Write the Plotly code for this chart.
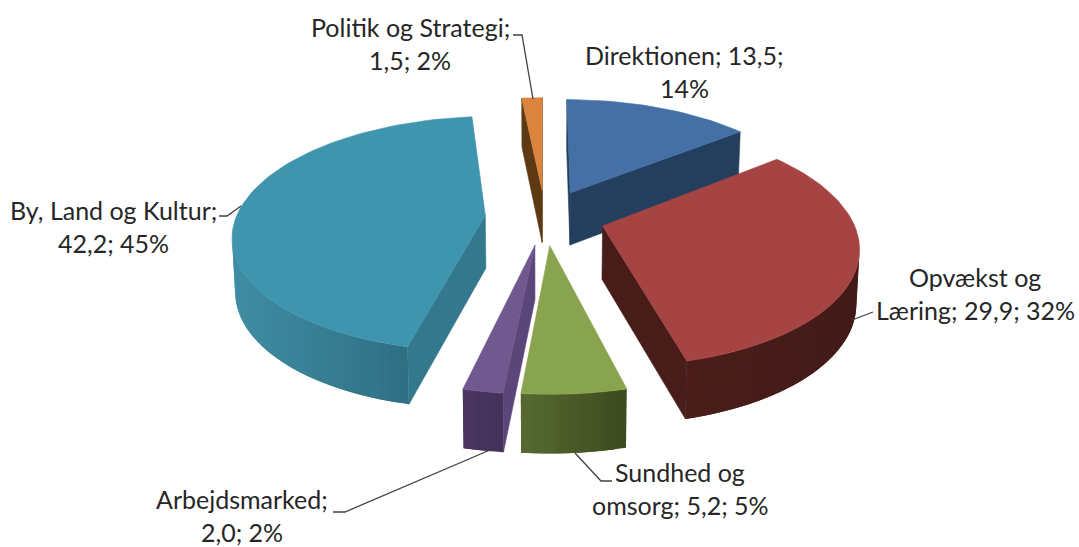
import math
import plotly.graph_objects as go

categories = ["Direktionen", "Opvækst og Læring", "Sundhed og omsorg", "Arbejdsmarked", "By, Land og Kultur", "Politik og Strategi"]
values = [13.5, 29.9, 5.2, 2.0, 42.2, 1.5]
percents = [14, 32, 5, 2, 45, 2]
top_colors = ["#4470A6", "#A54442", "#89A44E", "#71588F", "#4095AE", "#DB843D"]
cut_colors = ["#243F5E", "#471C19", "#4A5C28", "#5B4679", "#33788C", "#5E3A14"]
rim_left = ["#2A4A70", "#4A1D1A", "#566A32", "#4A3660", "#3F8DA3", "#7A4A1C"]
rim_right = ["#243F5E", "#421B18", "#3C4A1E", "#44325A", "#2A6478", "#5E3A14"]
draw_order = [5, 0, 4, 1, 3, 2]
label_lines = [
    ["Direktionen; 13,5;", "14%"],
    ["Opvækst og", "Læring; 29,9; 32%"],
    ["Sundhed og", "omsorg; 5,2; 5%"],
    ["Arbejdsmarked;", "2,0; 2%"],
    ["By, Land og Kultur;", "42,2; 45%"],
    ["Politik og Strategi;", "1,5; 2%"],
]
label_pos = [(684, 55), (975, 277), (680, 472), (242, 499), (113, 210), (410, 27)]
leaders = [
    None,
    [(852, 320), (873, 312)],
    [(575, 453), (601, 481), (612, 481)],
    [(490, 450), (345, 512), (333, 512)],
    [(241, 206), (227, 216), (219, 216)],
    [(533, 99), (522, 35), (513, 35)],
]

CX, CY, R, EXPLODE, P, Q = 545, 217, 249, 60, 0.158, 115 / 249
TEXT = "#262626"


def project(X, Y, bottom=False):
    w = Y / R
    s = 1 / (1 - P * w)
    x = X * s
    y = Q * Y * s
    if bottom:
        x *= 0.99
        y += 28 + 25 * s
    return CX + x, CY + y


def mix(a, b, t):
    ca = [int(a[i:i + 2], 16) for i in (1, 3, 5)]
    cb = [int(b[i:i + 2], 16) for i in (1, 3, 5)]
    return "#%02x%02x%02x" % tuple(round(u + (v - u) * t) for u, v in zip(ca, cb))


def area(pts):
    return sum(pts[i][0] * pts[(i + 1) % len(pts)][1] - pts[(i + 1) % len(pts)][0] * pts[i][1] for i in range(len(pts)))


def poly(fig, pts, color, width=0.6):
    xs = [p[0] for p in pts] + [pts[0][0]]
    ys = [p[1] for p in pts] + [pts[0][1]]
    fig.add_trace(go.Scatter(x=xs, y=ys, mode="lines", fill="toself", fillcolor=color,
                             line=dict(color=color, width=width), hoverinfo="skip", showlegend=False))


fig = go.Figure()
total = sum(values)
starts = []
acc = 0.0
for v in values:
    starts.append(acc)
    acc += v

for i in draw_order:
    a0 = starts[i] / total * 2 * math.pi
    a1 = (starts[i] + values[i]) / total * 2 * math.pi
    am = (a0 + a1) / 2
    ox, oy = EXPLODE * math.sin(am), -EXPLODE * math.cos(am)
    n = max(3, int(math.degrees(a1 - a0) / 2))
    rim = [(ox + R * math.sin(a0 + (a1 - a0) * k / n), oy - R * math.cos(a0 + (a1 - a0) * k / n)) for k in range(n + 1)]
    T = [project(*p) for p in rim]
    B = [project(*p, bottom=True) for p in rim]
    at, ab = project(ox, oy), project(ox, oy, bottom=True)
    for quad in ([at, T[0], B[0], ab], [T[-1], at, ab, B[-1]]):
        if area(quad) < 0:
            poly(fig, quad, cut_colors[i])
    xs_all = [p[0] for p in T]
    xmin, xmax = min(xs_all), max(xs_all)
    # Each band overlaps its neighbour so that no seams show.
    visible = [k for k in range(n) if area([T[k], T[k + 1], B[k + 1], B[k]]) < 0]
    for k in visible:
        end = min(k + 2, n) if (k + 1) in visible else k + 1
        quad = [T[k], T[end], B[end], B[k]]
        t = ((T[k][0] + T[k + 1][0]) / 2 - xmin) / max(xmax - xmin, 1)
        poly(fig, quad, mix(rim_left[i], rim_right[i], t), width=0)
    poly(fig, [at] + T, top_colors[i])

for line in leaders:
    if line:
        fig.add_trace(go.Scatter(x=[p[0] for p in line], y=[p[1] for p in line], mode="lines",
                                 line=dict(color="#404040", width=1.3), hoverinfo="skip", showlegend=False))

for lines, (lx, ly) in zip(label_lines, label_pos):
    for j, text in enumerate(lines):
        fig.add_annotation(x=lx, y=ly + 33 * j, text=text, showarrow=False, xanchor="center", yanchor="middle",
                           font=dict(family="Lato", size=25, color=TEXT))

fig.update_layout(
    width=1079, height=547, margin=dict(l=0, r=0, t=0, b=0),
    paper_bgcolor="white", plot_bgcolor="white", showlegend=False,
    xaxis=dict(range=[0, 1079], visible=False, fixedrange=True),
    yaxis=dict(range=[547, 0], visible=False, fixedrange=True),
)
page_css = ("document.body.style.margin='0';document.body.style.overflow='hidden';"
            "var st=document.createElement('style');"
            "st.textContent='text{font-variant-ligatures:none}';document.head.appendChild(st);")
fig.write_html("out.html", config={"displayModeBar": False}, post_script=page_css)
